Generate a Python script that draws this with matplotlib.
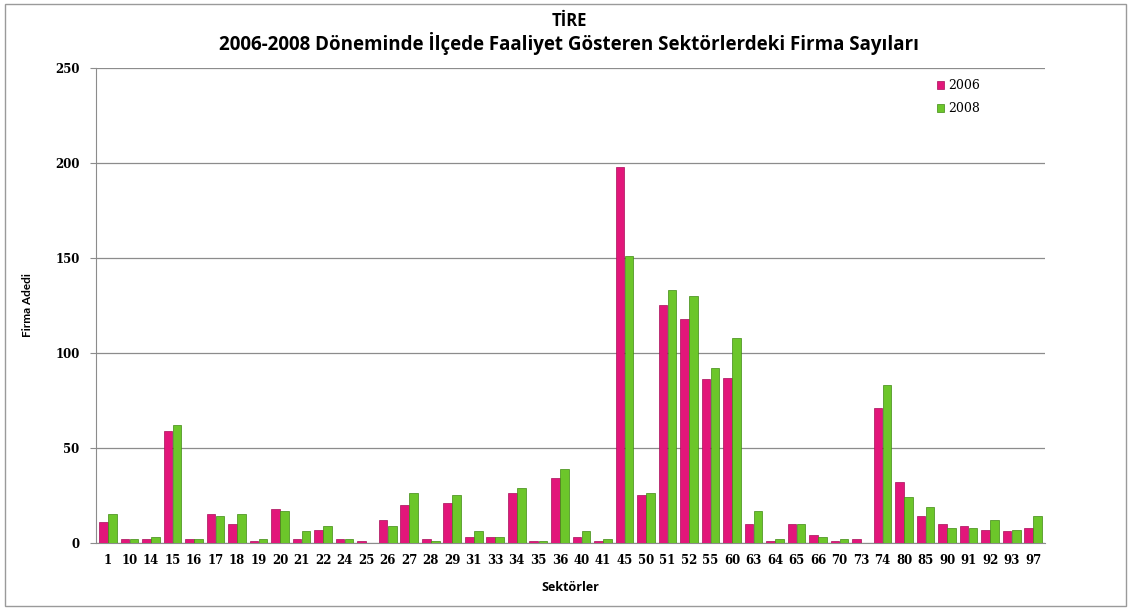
import numpy as np
import matplotlib.pyplot as plt
from matplotlib.patches import Rectangle

# sektör kodları ve firma sayıları
sektorler = ["1", "10", "14", "15", "16", "17", "18", "19", "20", "21", "22", "24",
             "25", "26", "27", "28", "29", "31", "33", "34", "35", "36", "40", "41",
             "45", "50", "51", "52", "55", "60", "63", "64", "65", "66", "70", "73",
             "74", "80", "85", "90", "91", "92", "93", "97"]
firma_2006 = [11, 2, 2, 59, 2, 15, 10, 1, 18, 2, 7, 2,
              1, 12, 20, 2, 21, 3, 3, 26, 1, 34, 3, 1,
              198, 25, 125, 118, 86, 87, 10, 1, 10, 4, 1, 2,
              71, 32, 14, 10, 9, 7, 6, 8]
firma_2008 = [15, 2, 3, 62, 2, 14, 15, 2, 17, 6, 9, 2,
              0, 9, 26, 1, 25, 6, 3, 29, 1, 39, 6, 2,
              151, 26, 133, 130, 92, 108, 17, 2, 10, 3, 2, 0,
              83, 24, 19, 8, 8, 12, 7, 14]
yil_etiketleri = ["2006", "2008"]

PEMBE = "#e2167a"
YESIL = "#6cc62a"

fig = plt.figure(figsize=(11.31, 6.10), dpi=100)
ax = fig.add_axes([0.085, 0.110, 0.839, 0.779])

x = np.arange(len(sektorler))
w = 0.40
ax.bar(x - w / 2 - 0.01, firma_2006, w, color=PEMBE, edgecolor="#a80d58",
       linewidth=0.5, label=yil_etiketleri[0], zorder=3)
ax.bar(x + w / 2 + 0.01, firma_2008, w, color=YESIL, edgecolor="#3f8a12",
       linewidth=0.5, label=yil_etiketleri[1], zorder=3)

ax.set_xlim(-0.55, len(sektorler) - 0.45)
ax.set_ylim(0, 250)
ax.set_yticks([0, 50, 100, 150, 200, 250])
ax.yaxis.grid(True, color="#8c8c8c", linewidth=0.9, zorder=0)

for s in ["top", "right"]:
    ax.spines[s].set_visible(False)
ax.spines["left"].set_color("#8c8c8c")
ax.spines["bottom"].set_color("#8c8c8c")

ax.set_xticks(x)
ax.set_xticklabels(sektorler)
ax.tick_params(axis="x", length=0, pad=8)
ax.tick_params(axis="y", length=4, color="#8c8c8c", pad=8)
for lab in ax.get_xticklabels() + ax.get_yticklabels():
    lab.set_fontfamily("DejaVu Serif")
    lab.set_fontsize(8.5)
    lab.set_fontweight("bold")

ax.set_ylabel("Firma Adedi", fontsize=8.5, family="Lato", fontweight="bold", labelpad=16)
ax.set_xlabel("Sektörler", fontsize=9, family="Open Sans", fontweight="bold", labelpad=10)

fig.text(0.503, 0.966, "TİRE", ha="center", va="center", fontsize=12,
         family="Open Sans", fontweight="bold")
fig.text(0.503, 0.929, "2006-2008 Döneminde İlçede Faaliyet Gösteren Sektörlerdeki Firma Sayıları",
         ha="center", va="center", fontsize=13.5, family="Open Sans", fontweight="bold")

leg = ax.legend(loc="upper left", bbox_to_anchor=(0.874, 1.0), frameon=False,
                fontsize=9, handlelength=0.6, handleheight=0.6, handletextpad=0.3,
                labelspacing=0.8)
for t in leg.get_texts():
    t.set_fontfamily("DejaVu Serif")

# dış çerçeve
fig.patches.append(Rectangle((0.004, 0.006), 0.992, 0.988, transform=fig.transFigure,
                             fill=False, edgecolor="#9a9a9a", linewidth=1))

fig.savefig("out.png", dpi=100)
